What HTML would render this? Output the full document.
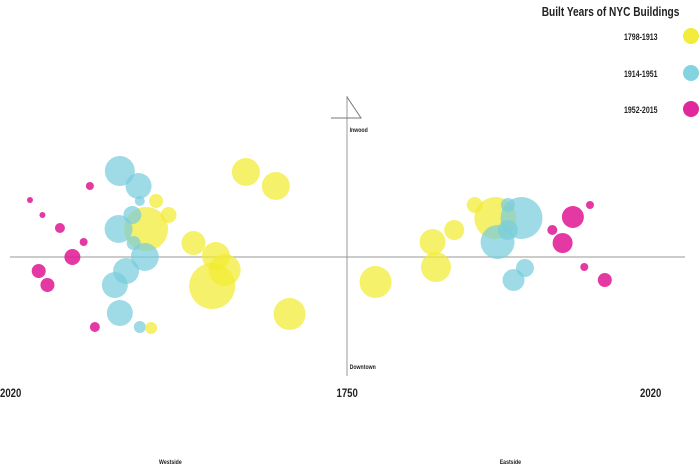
<!DOCTYPE html>
<html><head><meta charset="utf-8"><style>
body{margin:0;background:#fff;}
svg text{font-family:"Liberation Sans",sans-serif;}
</style></head><body>
<svg id="chart" width="700" height="467" viewBox="0 0 700 467" xmlns="http://www.w3.org/2000/svg">
<g stroke="#999" stroke-width="1">
<line x1="10" y1="257" x2="685" y2="257"/>
<line x1="347" y1="96" x2="347" y2="376"/>
<polyline points="347,97 361,118 331,118" fill="none" stroke="#777"/>
</g>
<g id="marks"></g>
<g font-weight="bold" fill="#222">
<text x="0" y="397" font-size="12" transform="translate(0,397) scale(0.8,1) translate(0,-397)">2020</text>
<text x="434" y="397" font-size="12" text-anchor="middle" transform="scale(0.8,1)">1750</text>
<text x="800" y="397" font-size="12" transform="scale(0.8,1)">2020</text>
<text x="437" y="132" font-size="6.5" transform="scale(0.8,1)">Inwood</text>
<text x="437" y="369" font-size="6.5" transform="scale(0.8,1)">Downtown</text>
<text x="213" y="464" font-size="6.5" text-anchor="middle" transform="scale(0.8,1)">Westside</text>
<text x="638" y="464" font-size="6.5" text-anchor="middle" transform="scale(0.8,1)">Eastside</text>
</g>
<g font-weight="bold" fill="#222">
<text x="871" y="16" font-size="13" text-anchor="end" transform="scale(0.78,1)">Built Years of NYC Buildings</text>
<text x="843" y="40" font-size="9" text-anchor="end" transform="scale(0.78,1)">1798-1913</text>
<circle cx="691" cy="36" r="8" fill="#f2ec3a"/>
<text x="843" y="77" font-size="9" text-anchor="end" transform="scale(0.78,1)">1914-1951</text>
<circle cx="691" cy="73" r="8" fill="#84d3e1"/>
<text x="843" y="113" font-size="9" text-anchor="end" transform="scale(0.78,1)">1952-2015</text>
<circle cx="691" cy="109" r="8" fill="#e0289c"/>
</g>
</svg>
<script>
// side: 0 = westside (left), 1 = eastside (right)
const sides  = [0,0,0,0,0,0,0,0,0, 0,0,0,0,0,0,0,0,0,0,0, 0,0,0,0,0,0,0,0,0,0,0, 1,1,1,1,1,1, 1,1,1,1,1,1, 1,1,1,1,1,1];
const years  = [2004,1994,1980,1956,1961,1970,1997,1990,1952, 1932,1917,1916,1922,1933,1921,1912,1927,1936,1932,1916, 1911,1903,1893,1831,1807,1873,1855,1848,1858,1796,1907, 1775,1825,1828,1844,1862,1880, 1903,1882,1891,1891,1906,1896, 1930,1948,1939,1963,1958,1976];
const offsets= [57,42,29,71,15,0,-14,-28,-70, 86,71,56,42,28,14,0,-14,-28,-56,-70, 28,56,42,85,71,14,1,-13,-29,-57,-71, -25,15,-10,27,52,39, 39,15,52,27,-11,-23, 27,40,14,52,-10,-23];
const sizes  = [3,3,5,4,4,8,7,7,5, 15,13,5,9,14,7,14,13,13,13,6, 22,7,8,14,14,12,14,16,23,16,6, 16,13,15,10,8,21, 21,17,7,10,9,11, 5,11,10,4,4,7];
const groups = [2,2,2,2,2,2,2,2,2, 1,1,1,1,1,1,1,1,1,1,1, 0,0,0,0,0,0,0,0,0,0,0, 0,0,0,0,0,0, 1,1,1,1,1,1, 2,2,2,2,2,2];
const colors = ["rgba(242,236,50,0.72)","rgba(120,205,220,0.72)","rgba(224,30,150,0.88)"];
const center=347, leftEnd=10, rightEnd=655, baseY=257;
function xScale(year, side){
  const t=(year-1750)/270;
  return side===0 ? center - t*(center-leftEnd) : center + t*(rightEnd-center);
}
function yScale(v){ return baseY - v; }
const g=document.getElementById('marks');
const order=years.map((_,i)=>i).sort((a,b)=>sizes[b]-sizes[a]);
order.forEach(i=>{
  const c=document.createElementNS('http://www.w3.org/2000/svg','circle');
  c.setAttribute('cx',xScale(years[i],sides[i]));
  c.setAttribute('cy',yScale(offsets[i]));
  c.setAttribute('r',sizes[i]);
  c.setAttribute('fill',colors[groups[i]]);
  
  
  g.appendChild(c);
});
</script>
</body></html>
